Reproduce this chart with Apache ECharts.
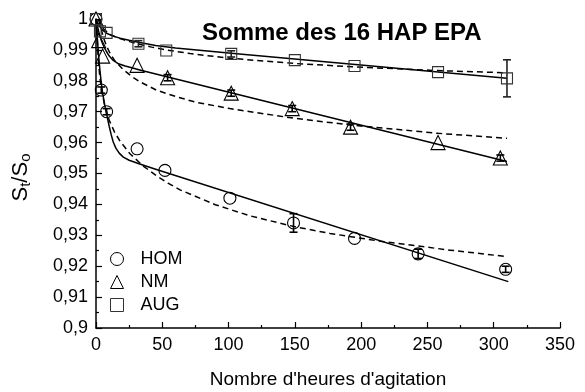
<!DOCTYPE html>
<html>
<head>
<meta charset="utf-8">
<script src="https://cdn.jsdelivr.net/npm/echarts@6/dist/echarts.min.js"></script>
<style>
  html, body { margin: 0; padding: 0; background: #fff; }
  #chart { width: 585px; height: 392px; }
</style>
</head>
<body>
<div id="chart"></div>
<script>
// Measured ratios S_t/S_o for each treatment (hours of shaking)
const homT = [0, 4, 8, 31, 52, 101, 149, 195, 243, 309];
const homS = [1.000, 0.977, 0.970, 0.958, 0.951, 0.942, 0.934, 0.929, 0.924, 0.919];
const homErr = [0, 0.001, 0.001, 0, 0, 0, 0.003, 0, 0.0015, 0.001];

const nmT = [0, 2, 5, 31, 54, 102, 148, 192, 258, 305];
const nmS = [1.000, 0.993, 0.988, 0.985, 0.981, 0.976, 0.971, 0.965, 0.960, 0.955];
const nmErr = [0, 0, 0, 0, 0.001, 0.001, 0.001, 0.001, 0, 0.001];

const augT = [0, 3, 8, 32, 53, 102, 150, 195, 258, 310];
const augS = [1.000, 0.996, 0.9955, 0.992, 0.9898, 0.9887, 0.9867, 0.9848, 0.9828, 0.9808];
const augErr = [0, 0, 0, 0.001, 0, 0.001, 0, 0, 0, 0.006];

// Fitted curves: solid = two-compartment model, dashed = empirical model
const homFitT = [0, 0.5, 1, 2, 3, 4, 5, 6.5, 8, 10, 11.5, 13, 15, 17.5, 20.6, 25, 33, 45, 311];
const homFitS = [1.000, 0.9966, 0.9935, 0.9880, 0.9832, 0.9793, 0.9760, 0.9723, 0.9692, 0.9652, 0.9625, 0.9602, 0.9582, 0.9566, 0.9553, 0.9543, 0.9531, 0.9514, 0.9150];
const homAltT = [0.55, 0.7, 1, 1.4, 2, 3, 4.5, 6.8, 10, 14, 18.1, 25.6, 35.7, 45.8, 54.6, 63.4, 90, 116.2, 148.6, 176.5, 214.2, 267, 310];
const homAltS = [1.000, 0.9973, 0.9933, 0.9895, 0.9854, 0.9808, 0.9763, 0.9716, 0.9672, 0.9634, 0.9605, 0.9564, 0.9524, 0.9492, 0.9468, 0.9447, 0.9399, 0.9363, 0.9329, 0.9306, 0.9281, 0.9252, 0.9231];

const nmFitT = [0, 0.5, 1, 2, 3, 4.3, 6, 8, 10, 13, 17, 22, 27, 33, 310];
const nmFitS = [1.000, 0.9989, 0.9979, 0.9960, 0.9944, 0.9927, 0.9910, 0.9894, 0.9880, 0.9866, 0.9855, 0.9848, 0.9842, 0.9835, 0.9539];
const nmAltT = [2.7, 3.5, 4.5, 6, 8, 10.6, 14, 20.6, 27, 33, 46, 61, 75, 101, 149, 192, 258, 310];
const nmAltS = [1.000, 0.9979, 0.9958, 0.9935, 0.9912, 0.9889, 0.9866, 0.9836, 0.9814, 0.9797, 0.9769, 0.9748, 0.9731, 0.9710, 0.9679, 0.9657, 0.9630, 0.9614];

const augFitT = [0, 0.5, 1, 2, 3, 5, 8, 12, 18, 25, 32, 45, 60, 80, 102, 310];
const augFitS = [1.000, 0.9995, 0.9990, 0.9982, 0.9975, 0.9964, 0.9954, 0.9946, 0.9938, 0.9931, 0.9925, 0.9914, 0.9906, 0.9898, 0.9889, 0.9808];
const augAltT = [1.5, 3, 6, 10.6, 15, 20, 26, 32, 42, 53, 71, 101, 150, 195, 258, 310];
const augAltS = [1.000, 0.9985, 0.9967, 0.9950, 0.9942, 0.9934, 0.9926, 0.9919, 0.9909, 0.9900, 0.9888, 0.9873, 0.9856, 0.9845, 0.9833, 0.9826];

const xTicks = [0, 50, 100, 150, 200, 250, 300, 350];
const yTicks = [0.9, 0.91, 0.92, 0.93, 0.94, 0.95, 0.96, 0.97, 0.98, 0.99, 1];

const FONT = "'Liberation Sans', Arial, sans-serif";
const zip = (a, b) => a.map((v, i) => [v, b[i]]);
const zip3 = (a, b, c) => a.map((v, i) => [v, b[i], c[i]]);
const frLabel = v => String(Math.round(v * 1000) / 1000).replace('.', ',');

function errorBars(name, t, s, e, color) {
  return {
    name: name + ' ±',
    type: 'custom',
    z: 4,
    silent: true,
    clip: false,
    data: zip3(t, s, e).filter(d => d[2] > 0),
    renderItem: function (params, api) {
      const x = api.value(0), y = api.value(1), err = api.value(2);
      const top = api.coord([x, y + err]);
      const bot = api.coord([x, y - err]);
      const cap = 4;
      const style = { stroke: color, lineWidth: 1.6 };
      return {
        type: 'group',
        children: [
          { type: 'line', shape: { x1: top[0], y1: top[1], x2: bot[0], y2: bot[1] }, style },
          { type: 'line', shape: { x1: top[0] - cap, y1: top[1], x2: top[0] + cap, y2: top[1] }, style },
          { type: 'line', shape: { x1: bot[0] - cap, y1: bot[1], x2: bot[0] + cap, y2: bot[1] }, style }
        ]
      };
    }
  };
}

function fitLine(name, t, s, dashed) {
  return {
    name: name,
    type: 'line',
    data: zip(t, s),
    showSymbol: false,
    smooth: false,
    z: 2,
    silent: true,
    lineStyle: { color: '#000', width: 1.5, type: dashed ? [6, 4] : 'solid', join: 'round' }
  };
}

function points(name, t, s, symbol, size, color) {
  return {
    name: name,
    type: 'scatter',
    data: zip(t, s),
    symbol: symbol,
    symbolSize: size,
    clip: false,
    z: 5,
    itemStyle: { color: 'rgba(255,255,255,0)', borderColor: color, borderWidth: 1.1, opacity: 1 }
  };
}

const chart = echarts.init(document.getElementById('chart'), null, { renderer: 'canvas' });
chart.setOption({
  animation: false,
  backgroundColor: '#fff',
  title: {
    text: 'Somme des 16 HAP EPA',
    left: 197,
    top: 16,
    textStyle: { fontFamily: FONT, fontSize: 24, fontWeight: 'bold', color: '#000' }
  },
  legend: {
    orient: 'vertical',
    left: 105,
    top: 244,
    itemWidth: 13,
    itemHeight: 13,
    itemGap: 3,
    data: ['HOM', 'NM', 'AUG'],
    itemStyle: { borderWidth: 1 },
    textStyle: { fontFamily: FONT, fontSize: 18, color: '#000', lineHeight: 20, padding: [0, 0, 0, 12] }
  },
  grid: { left: 96, right: 25, top: 19, bottom: 64, containLabel: false, outerBoundsMode: 'none' },
  xAxis: {
    type: 'value',
    min: xTicks[0],
    max: xTicks[xTicks.length - 1],
    interval: 50,
    name: "Nombre d'heures d'agitation",
    nameLocation: 'middle',
    nameGap: 42,
    nameTextStyle: { fontFamily: FONT, fontSize: 19, color: '#000' },
    axisLine: { lineStyle: { color: '#000', width: 1.5 } },
    axisTick: { inside: true, length: 6, lineStyle: { color: '#000', width: 1.2 } },
    minorTick: { show: true, splitNumber: 2, length: 3, lineStyle: { color: '#000', width: 1.2 } },
    axisLabel: { fontFamily: FONT, fontSize: 18, color: '#000', margin: 8 },
    splitLine: { show: false }
  },
  yAxis: {
    type: 'value',
    min: yTicks[0],
    max: yTicks[yTicks.length - 1],
    interval: 0.01,
    name: 'S{sub|t}/S{sub|o}',
    nameLocation: 'middle',
    nameGap: 63,
    nameTextStyle: {
      fontFamily: FONT, fontSize: 22, color: '#000', padding: [0, 8, 0, 0],
      rich: { sub: { fontFamily: FONT, fontSize: 15, color: '#000', verticalAlign: 'bottom', padding: [10, 0, 0, 0] } }
    },
    axisLine: { show: true, lineStyle: { color: '#000', width: 1.5 } },
    axisTick: { show: true, inside: true, length: 6, lineStyle: { color: '#000', width: 1.2 } },
    minorTick: { show: true, splitNumber: 2, length: 3, lineStyle: { color: '#000', width: 1.2 } },
    axisLabel: { fontFamily: FONT, fontSize: 18, color: '#000', margin: 8, formatter: frLabel },
    splitLine: { show: false }
  },
  series: [
    fitLine('HOM modèle 1', homFitT, homFitS, false),
    fitLine('HOM modèle 2', homAltT, homAltS, true),
    fitLine('NM modèle 1', nmFitT, nmFitS, false),
    fitLine('NM modèle 2', nmAltT, nmAltS, true),
    fitLine('AUG modèle 1', augFitT, augFitS, false),
    fitLine('AUG modèle 2', augAltT, augAltS, true),
    errorBars('HOM', homT, homS, homErr, '#000'),
    errorBars('NM', nmT, nmS, nmErr, '#000'),
    errorBars('AUG', augT, augS, augErr, '#222'),
    points('HOM', homT, homS, 'circle', 12, '#000'),
    points('NM', nmT, nmS, 'triangle', 14, '#000'),
    points('AUG', augT, augS, 'rect', 11, '#333')
  ]
});
</script>
</body>
</html>
